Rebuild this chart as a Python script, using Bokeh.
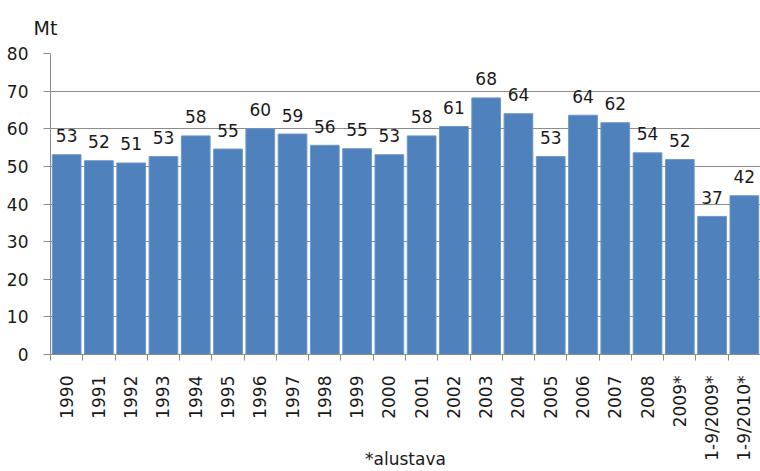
import math
from bokeh.plotting import figure
from bokeh.models import ColumnDataSource, FixedTicker, Range1d
from bokeh.core.properties import value
from bokeh.embed import file_html
from bokeh.resources import INLINE

categories = ["1990", "1991", "1992", "1993", "1994", "1995", "1996", "1997", "1998", "1999",
              "2000", "2001", "2002", "2003", "2004", "2005", "2006", "2007", "2008", "2009*",
              "1-9/2009*", "1-9/2010*"]
emissions = [53.1, 51.5, 50.9, 52.6, 58.1, 54.6, 60.0, 58.6, 55.6, 54.7,
             53.1, 58.1, 60.6, 68.2, 64.0, 52.6, 63.6, 61.6, 53.6, 51.8,
             36.7, 42.2]
y_ticks = [0, 10, 20, 30, 40, 50, 60, 70, 80]

FONT = "DejaVu Sans"
FS = "17px"
TXT = "#1a1a1a"
n = len(categories)
centers = [i + 0.5 for i in range(n)]
bounds = list(range(n + 1))

src = ColumnDataSource(dict(
    x=centers, top=emissions, lab=[f"{v:.0f}" for v in emissions]))

p = figure(width=760, height=471, output_backend="svg", toolbar_location=None,
           x_range=Range1d(0, n), y_range=Range1d(0, 80),
           min_border_left=50, min_border_right=0, min_border_top=51,
           min_border_bottom=10)
p.outline_line_color = None
p.background_fill_color = "white"
p.border_fill_color = "white"

p.title.text = "Mt"
p.title.text_font = FONT
p.title.text_font_size = "19px"
p.title.text_font_style = "normal"
p.title.text_color = TXT
p.title.text_line_height = 0.9
p.title.offset = -17
p.title.standoff = 29

p.vbar(x="x", top="top", width=0.89, source=src, fill_color="#4F81BD",
       line_color="#6E97C8", line_width=1)
p.text(x="x", y="top", text="lab", source=src, text_align="center",
       text_baseline="alphabetic", y_offset=-19, text_font=value(FONT),
       text_font_size=FS, text_color=TXT)

# grid
p.xgrid.grid_line_color = None
p.ygrid.ticker = FixedTicker(ticks=y_ticks)
p.ygrid.grid_line_color = "#8C8C8C"
p.ygrid.grid_line_width = 1

# y axis
p.yaxis.ticker = FixedTicker(ticks=y_ticks, minor_ticks=[])
p.yaxis.axis_line_color = "#8C8C8C"
p.yaxis.major_tick_line_color = "#8C8C8C"
p.yaxis.major_tick_out = 7
p.yaxis.major_tick_in = 0
p.yaxis.minor_tick_line_color = None
p.yaxis.major_label_standoff = 15
p.yaxis.major_label_text_font = FONT
p.yaxis.major_label_text_font_size = FS
p.yaxis.major_label_text_color = TXT

# x axis
p.xaxis.ticker = FixedTicker(ticks=centers, minor_ticks=bounds)
p.xaxis.major_label_overrides = {c: lab for c, lab in zip(centers, categories)}
p.xaxis.major_label_orientation = math.pi / 2
p.xaxis.axis_line_color = "#8C8C8C"
p.xaxis.major_tick_line_color = None
p.xaxis.major_tick_out = 6
p.xaxis.major_tick_in = 0
p.xaxis.minor_tick_line_color = "#8C8C8C"
p.xaxis.minor_tick_out = 6
p.xaxis.minor_tick_in = 0
p.xaxis.major_label_standoff = 15
p.xaxis.major_label_text_font = FONT
p.xaxis.major_label_text_font_size = FS
p.xaxis.major_label_text_color = TXT
p.xaxis.axis_label = "*alustava"
p.xaxis.axis_label_text_font = FONT
p.xaxis.axis_label_text_font_size = FS
p.xaxis.axis_label_text_font_style = "normal"
p.xaxis.axis_label_text_color = TXT
p.xaxis.axis_label_standoff = -15

open("out.html", "w").write(file_html(p, INLINE))
